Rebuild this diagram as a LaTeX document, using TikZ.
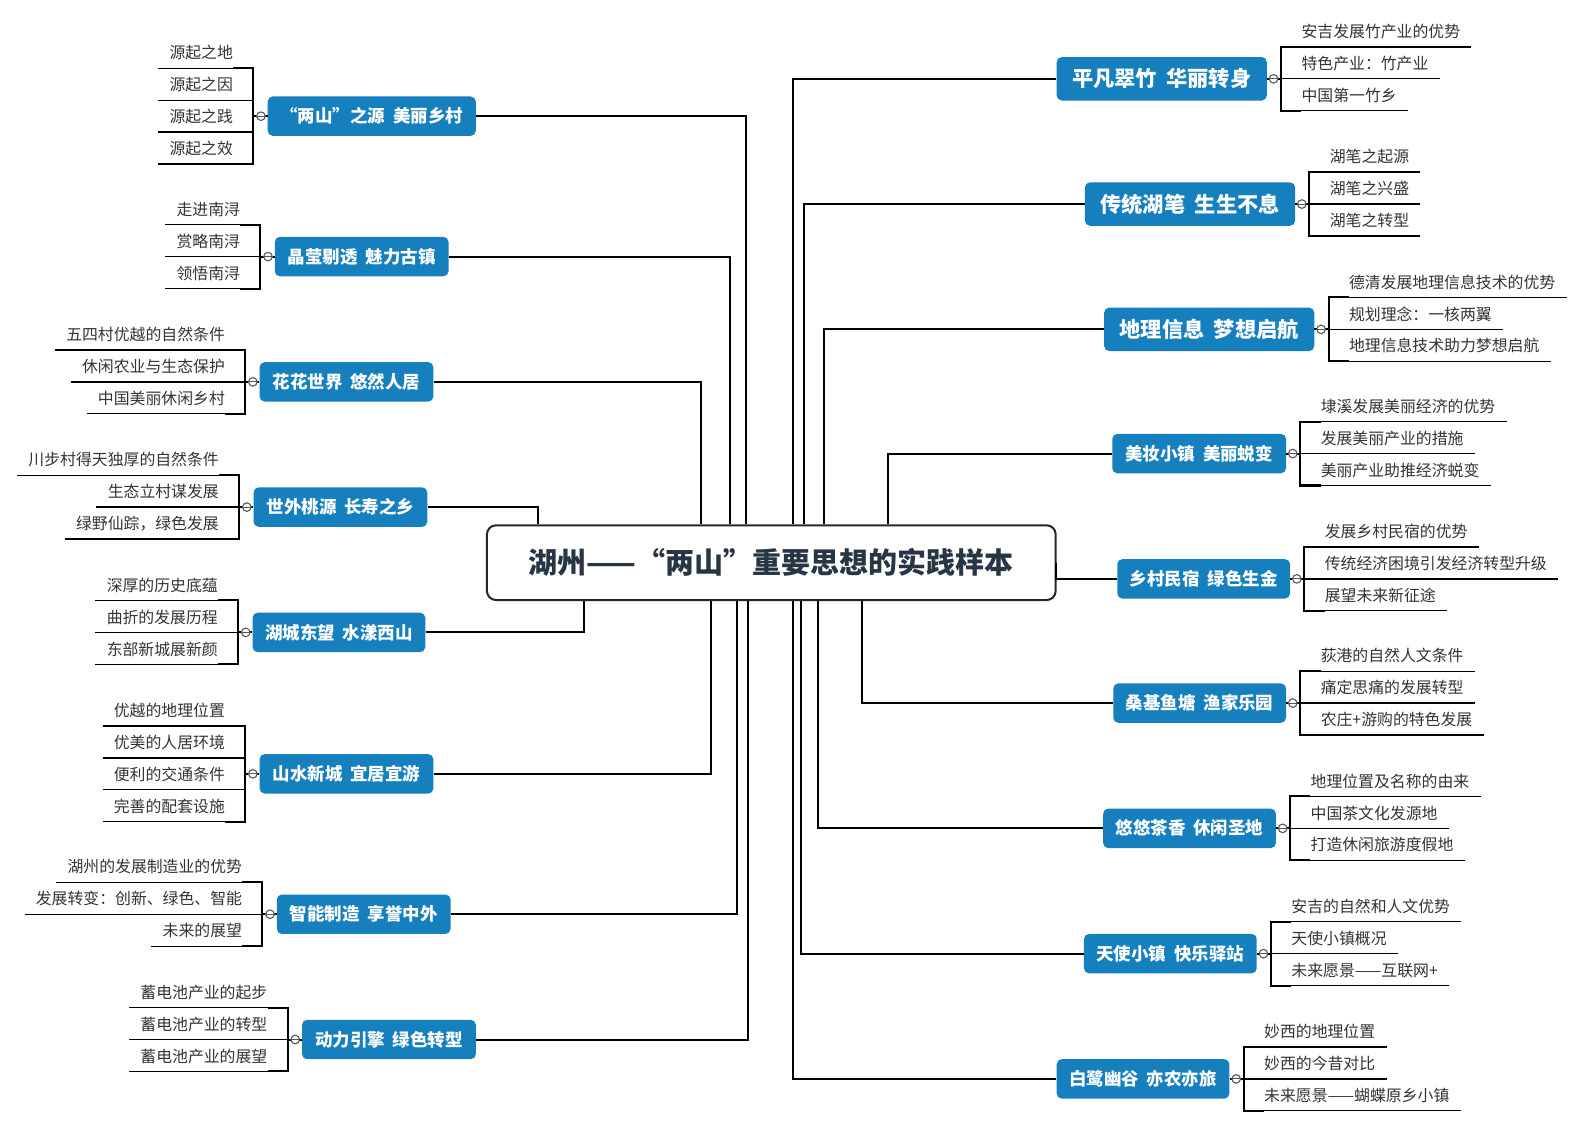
\documentclass[tikz,border=0pt]{standalone}
\usepackage{fontspec}
\setmainfont{Noto Sans CJK SC}
\usepackage{tikz}
\usetikzlibrary{positioning}
\usetikzlibrary{calc}
\definecolor{topicblue}{HTML}{1680BF}
\definecolor{leafgray}{HTML}{333333}
\definecolor{titleink}{HTML}{283544}

\begin{document}
\begin{tikzpicture}[x=1pt,y=-1pt,
    link/.style={line width=2pt,black},
    bracket/.style={line width=2pt,black},
    uline/.style={line width=1.3pt,black},
    topic/.style={rounded corners=5pt,fill=topicblue,text=white,inner sep=0pt,minimum height=39pt,font=\fontsize{17.3}{20}\selectfont\bfseries},
    leaf/.style={inner sep=0pt,minimum height=30pt,text=leafgray,font=\fontsize{15.7}{18}\selectfont},
    leafL/.style={leaf,anchor=south east,execute at begin node=\hspace*{11pt},execute at end node=\hspace*{20pt}},
    leafR/.style={leaf,anchor=south west,execute at begin node=\hspace*{20pt},execute at end node=\hspace*{11pt}},
    knob/.style={circle,draw=black!65,fill=white,line width=1.1pt,minimum size=8.5pt,inner sep=0pt,
      path picture={\draw[line width=1.1pt,black!65] (path picture bounding box.west) -- (path picture bounding box.east);}}]
    \useasboundingbox (0,0) rectangle (1568,1115);
    \node[draw=black!85,line width=2pt,rounded corners=9pt,fill=white,minimum width=563pt,minimum height=74pt,inner sep=0pt,
      text=titleink,font=\fontsize{28.7}{32}\selectfont\bfseries] (main) at (763.5,557) {湖州——“两山”重要思想的实践样本};
    % left side
    \foreach \n/\px/\py/\w/\dx/\a/\k/\txt/\lst in {
        L1/368/115/206/738/north/4/{“两山”之源\hspace{.45em}美丽乡村}/{源起之地,源起之因,源起之践,源起之效},
        L2/358/254/172/723/north/3/{晶莹剔透\hspace{.45em}魅力古镇}/{走进南浔,赏略南浔,领悟南浔},
        L3/343/378/172/694/north/3/{花花世界\hspace{.45em}悠然人居}/{五四村优越的自然条件,休闲农业与生态保护,中国美丽休闲乡村},
        L4/337/502/172/533/north/3/{世外桃源\hspace{.45em}长寿之乡}/{川步村得天独厚的自然条件,生态立村谋发展,绿野仙踪，绿色发展},
        L5/335.5/626/171/578/south/3/{湖城东望\hspace{.45em}水漾西山}/{深厚的历史底蕴,曲折的发展历程,东部新城展新颜},
        L6/343/766/172/704/south/4/{山水新城\hspace{.45em}宜居宜游}/{优越的地理位置,优美的人居环境,便利的交通条件,完善的配套设施},
        L7/360/905/172/730/south/3/{智能制造\hspace{.45em}享誉中外}/{湖州的发展制造业的优势,发展转变：创新、绿色、智能,未来的展望},
        L8/385/1029/172/740/south/3/{动力引擎\hspace{.45em}绿色转型}/{蓄电池产业的起步,蓄电池产业的转型,蓄电池产业的展望}}{
        \node[topic,minimum width=\w pt] (\n) at (\px,\py) {\txt};
        \draw[link] (\n.east) -| (main.\a -| \dx,0);
        \coordinate (\n-b) at ($(\n.west)+(-14,0)$);
        \foreach \t [count=\i] in \lst
            \node[leafL] (\n-\i) at ($(\n-b)+(0,{(\i-(\k+1)/2)*31.6})$) {\t};
        \foreach \i in {1,...,\k}
            \draw[uline] (\n-\i.south west) -- (\n-\i.south east);
        \draw[bracket] ([xshift=-20pt]\n-1.south east) -- (\n-1.south east) -- (\n-\k.south east) -- ([xshift=-20pt]\n-\k.south east);
        \draw[link] (\n-b) -- (\n.west);
        \node[knob] at ($(\n.west)+(-6.5,0)$) {};
    }
    % right side
    \foreach \n/\px/\py/\w/\h/\fs/\dx/\a/\txt/\lst in {
        R1/1150/78/208/43/21/785/north/{平凡翠竹\hspace{.45em}华丽转身}/{安吉发展竹产业的优势,特色产业：竹产业,中国第一竹乡},
        R2/1178/202/208/43/21/796/north/{传统湖笔\hspace{.45em}生生不息}/{湖笔之起源,湖笔之兴盛,湖笔之转型},
        R3/1197/326/208/43/21/816/north/{地理信息\hspace{.45em}梦想启航}/{德清发展地理信息技术的优势,规划理念：一核两翼,地理信息技术助力梦想启航},
        R4/1187/449/172/39/17.3/879/north/{美妆小镇\hspace{.45em}美丽蜕变}/{埭溪发展美丽经济的优势,发展美丽产业的措施,美丽产业助推经济蜕变},
        R5/1191.5/573/171/39/17.3/1045/east/{乡村民宿\hspace{.45em}绿色生金}/{发展乡村民宿的优势,传统经济困境引发经济转型升级,展望未来新征途},
        R6/1187.5/696/171/39/17.3/853/south/{桑基鱼塘\hspace{.45em}渔家乐园}/{荻港的自然人文条件,痛定思痛的发展转型,农庄+游购的特色发展},
        R7/1177.5/820/171/39/17.3/810/south/{悠悠茶香\hspace{.45em}休闲圣地}/{地理位置及名称的由来,中国茶文化发源地,打造休闲旅游度假地},
        R8/1158.5/944/171/39/17.3/793/south/{天使小镇\hspace{.45em}快乐驿站}/{安吉的自然和人文优势,天使小镇概况,未来愿景——互联网+},
        R9/1131.5/1068/171/39/17.3/785/south/{白鹭幽谷\hspace{.45em}亦农亦旅}/{妙西的地理位置,妙西的今昔对比,未来愿景——蝴蝶原乡小镇}}{
        \node[topic,minimum width=\w pt,minimum height=\h pt,font=\fontsize{\fs}{\fs}\selectfont\bfseries] (\n) at (\px,\py) {\txt};
        \draw[link] (\n.west) -| (main.\a -| \dx,0);
        \coordinate (\n-b) at ($(\n.east)+(14,0)$);
        \foreach \t [count=\i] in \lst
            \node[leafR] (\n-\i) at ($(\n-b)+(0,{(\i-2)*31.6})$) {\t};
        \foreach \i in {1,2,3}
            \draw[uline] (\n-\i.south west) -- (\n-\i.south east);
        \draw[bracket] ([xshift=20pt]\n-1.south west) -- (\n-1.south west) -- (\n-3.south west) -- ([xshift=20pt]\n-3.south west);
        \draw[link] (\n-b) -- (\n.east);
        \node[knob] at ($(\n.east)+(6.5,0)$) {};
    }
\end{tikzpicture}
\end{document}
